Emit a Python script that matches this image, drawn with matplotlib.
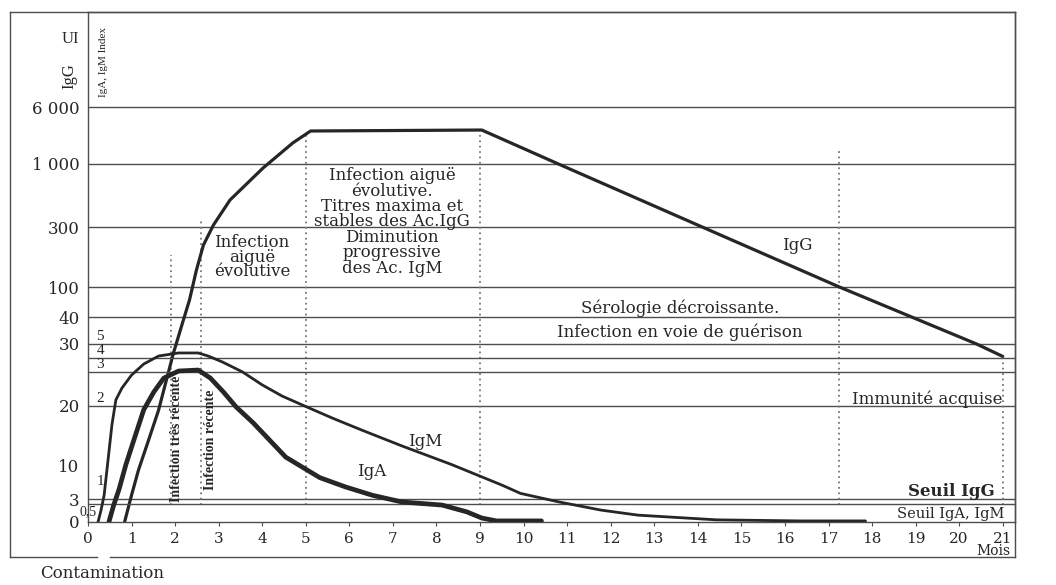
import numpy as np
import matplotlib
matplotlib.use("Agg")
import matplotlib.pyplot as plt
from matplotlib.lines import Line2D

# ---- serology curves (months after contamination) ----
igg_months = [0.84, 1.00, 1.16, 1.39, 1.62, 1.80, 1.96, 2.19, 2.33, 2.49, 2.65, 2.88,
              3.26, 4.02, 4.70, 5.11, 9.04, 10.8, 14.1, 17.25, 20.4, 21.0]
igg_ui = [0, 3.8, 9.0, 14.2, 19.3, 24.2, 28.5, 38.9, 74, 157, 240, 322,
          600, 956, 2842, 3895, 3980, 1000, 300, 100, 30, 28]

igm_months = [0.23, 0.30, 0.37, 0.46, 0.55, 0.64, 0.78, 1.00, 1.28, 1.62, 2.08, 2.53,
              2.76, 3.09, 3.55, 4.00, 4.46, 4.92, 5.61, 6.29, 7.21, 8.35, 9.50, 9.93,
              10.82, 11.78, 12.63, 14.43, 16.35, 17.85]
igm_index = [0, 0.33, 1.04, 1.42, 1.80, 2.18, 2.53, 2.91, 3.57, 4.14, 4.36, 4.36,
             4.14, 3.71, 3.00, 2.62, 2.29, 2.03, 1.87, 1.74, 1.57, 1.37, 1.15, 1.06,
             0.70, 0.33, 0.19, 0.06, 0.03, 0.03]

iga_months = [0.48, 0.59, 0.71, 0.87, 1.05, 1.28, 1.51, 1.74, 2.08, 2.53, 2.81, 3.11,
              3.40, 3.79, 4.54, 5.32, 5.91, 6.53, 7.21, 8.13, 8.70, 9.04, 9.38, 10.41]
iga_index = [0, 0.47, 1.10, 1.37, 1.63, 1.96, 2.41, 2.82, 3.07, 3.14, 2.82, 2.41,
             1.99, 1.82, 1.45, 1.23, 1.13, 1.04, 0.70, 0.47, 0.28, 0.11, 0.03, 0.03]

# ---- axes definitions ----
month_ticks = list(range(22))
ui_ticks = [0, 3, 10, 20, 30, 40, 100, 300, 1000, 6000]
ui_labels = ["0", "3", "10", "20", "30", "40", "100", "300", "1 000", "6 000"]
ui_heights = [0, 23, 57, 116, 178, 205, 235, 295, 358, 415]
ui_grid = [3, 20, 30, 40, 100, 300, 1000, 6000]

index_ticks = [0, 0.5, 1, 2, 3, 4, 5]
index_heights = [0, 18, 23, 116, 150, 164, 178]
index_labels = ["1", "2", "3", "4", "5"]
index_grid = [0.5, 3, 4]

phase_months = [1.9, 2.6, 5, 9, 17.25, 21]
phase_tops = [0.524, 0.592, 0.759, 0.759, 0.729, 0.318]

W, H = 1056, 585
INK = "#262626"
GRID = "#4d4d4d"
SERIF = "DejaVu Serif"
NARROW = "Liberation Serif"


def stretch_scale(values, heights):
    v = np.asarray(values, float)
    h = np.asarray(heights, float)

    def _map(x, a, b):
        x = np.asarray(x, float)
        y = np.interp(x, a, b)
        y = np.where(x > a[-1], b[-1] + (x - a[-1]) * (b[-1] - b[-2]) / (a[-1] - a[-2]), y)
        y = np.where(x < a[0], b[0] + (x - a[0]) * (b[1] - b[0]) / (a[1] - a[0]), y)
        return y

    return (lambda x: _map(x, v, h)), (lambda y: _map(y, h, v))


def fpos(x, y):
    return x / W, 1 - y / H


ui_fwd, ui_inv = stretch_scale(ui_ticks, ui_heights)
ix_fwd, ix_inv = stretch_scale(index_ticks, index_heights)

fig = plt.figure(figsize=(W / 100, H / 100), dpi=100)
fig.patch.set_facecolor("white")
ax = fig.add_axes([88 / W, 1 - 522 / H, (1015 - 88) / W, 510 / H])
ax2 = ax.twinx()

ax.set_yscale("function", functions=(ui_fwd, ui_inv))
ax2.set_yscale("function", functions=(ix_fwd, ix_inv))
ax.set_ylim(0, float(ui_inv(510)))
ax2.set_ylim(0, float(ix_inv(510)))
ax.set_xlim((88 - 85) / 43.7, (1015 - 85) / 43.7)

ax.set_yticks(ui_ticks)
ax.set_yticklabels(ui_labels, fontfamily=SERIF, fontsize=12, color=INK)
ax.tick_params(axis="y", length=0, pad=6)
ax.set_xticks(month_ticks)
ax.set_xticklabels([str(m) for m in month_ticks], fontfamily=SERIF, fontsize=11, color=INK)
ax.tick_params(axis="x", direction="out", length=3, width=0.8, color=GRID, pad=4)
ax.yaxis.set_minor_locator(matplotlib.ticker.NullLocator())
ax2.set_yticks([])
ax2.yaxis.set_minor_locator(matplotlib.ticker.NullLocator())
for sp in ax.spines.values():
    sp.set_color(GRID)
    sp.set_linewidth(1.0)
for sp in ax2.spines.values():
    sp.set_visible(False)

# horizontal reference lines
for v in ui_grid:
    ax.axhline(v, color=GRID, lw=1.0)
for v in index_grid:
    ax2.axhline(v, color=GRID, lw=1.0)

# phase boundaries
ax.vlines(phase_months, 0.033, phase_tops, transform=ax.get_xaxis_transform(),
          colors="#777777", linestyles=(0, (1, 2)), lw=1.3)

# antibody curves
ax.plot(igg_months, igg_ui, color=INK, lw=2.3, solid_joinstyle="round", solid_capstyle="round")
ax2.plot(igm_months, igm_index, color=INK, lw=2.0, solid_joinstyle="round", solid_capstyle="round")
ax2.plot(iga_months, iga_index, color=INK, lw=3.4, solid_joinstyle="round", solid_capstyle="round")

# index labels inside the left axis
for lbl, v in zip(index_labels, index_ticks[2:]):
    lift = 8 if v == 1 else 1
    ax2.annotate(lbl, xy=(0.009, v), xycoords=("axes fraction", "data"),
                 xytext=(0, lift), textcoords="offset points",
                 ha="left", va="bottom", fontfamily=NARROW, fontsize=11, color=INK)
ax2.annotate("0,5", xy=(0.0, 0.5), xycoords=("axes fraction", "data"),
             xytext=(-6, -1), textcoords="offset points",
             ha="left", va="top", fontfamily=NARROW, fontsize=10, color=INK)

# axis titles
fig.text(*fpos(70, 39), "UI", ha="center", va="center", fontfamily=NARROW, fontsize=12, color=INK)
fig.text(*fpos(69, 76), "IgG", ha="center", va="center", rotation=90,
         fontfamily=NARROW, fontsize=12, color=INK)
fig.text(*fpos(104, 62), "IgA, IgM Index", ha="center", va="center", rotation=90,
         fontfamily=NARROW, fontsize=8, color=INK)
fig.text(*fpos(1010, 551), "Mois", ha="right", va="center", fontfamily=SERIF, fontsize=10, color=INK)
fig.text(*fpos(40, 573), "Contamination", ha="left", va="center", fontfamily=SERIF, fontsize=12, color=INK)

# phase annotations
fig.text(*fpos(177, 439), "Infection très récente", ha="center", va="center", rotation=90,
         fontfamily=NARROW, fontsize=10, fontweight="bold", color=INK)
fig.text(*fpos(210, 440), "Infection récente", ha="center", va="center", rotation=90,
         fontfamily=NARROW, fontsize=10, fontweight="bold", color=INK)
fig.text(*fpos(252, 257), "Infection\naiguë\névolutive", ha="center", va="center",
         fontfamily=SERIF, fontsize=12, linespacing=0.8, color=INK)
fig.text(*fpos(392, 222),
         "Infection aiguë\névolutive.\nTitres maxima et\nstables des Ac.IgG\n"
         "Diminution\nprogressive\ndes Ac. IgM",
         ha="center", va="center", fontfamily=SERIF, fontsize=12, linespacing=0.88, color=INK)
fig.text(*fpos(680, 308), "Sérologie décroissante.", ha="center", va="center",
         fontfamily=SERIF, fontsize=12, color=INK)
fig.text(*fpos(680, 332), "Infection en voie de guérison", ha="center", va="center",
         fontfamily=SERIF, fontsize=12, color=INK)
fig.text(*fpos(1002, 399), "Immunité acquise", ha="right", va="center",
         fontfamily=SERIF, fontsize=12, color=INK)
fig.text(*fpos(995, 491), "Seuil IgG", ha="right", va="center",
         fontfamily=SERIF, fontsize=12, fontweight="bold", color=INK)
fig.text(*fpos(1004, 514), "Seuil IgA, IgM", ha="right", va="center",
         fontfamily=SERIF, fontsize=10.5, color=INK)

# curve names
fig.text(*fpos(797, 245), "IgG", ha="center", va="center", fontfamily=SERIF, fontsize=12, color=INK)
fig.text(*fpos(425, 442), "IgM", ha="center", va="center", fontfamily=SERIF, fontsize=12, color=INK)
fig.text(*fpos(372, 472), "IgA", ha="center", va="center", fontfamily=SERIF, fontsize=12, color=INK)

# outer frame
frame = [((10, 12), (1015, 12)), ((10, 12), (10, 557)), ((1015, 12), (1015, 557)),
         ((10, 557), (97, 557)), ((110, 557), (1015, 557))]
for (x0, y0), (x1, y1) in frame:
    (a0, b0), (a1, b1) = fpos(x0, y0), fpos(x1, y1)
    fig.add_artist(Line2D([a0, a1], [b0, b1], transform=fig.transFigure, color=GRID, lw=1.0))

fig.savefig("out.png", dpi=100, facecolor="white")
